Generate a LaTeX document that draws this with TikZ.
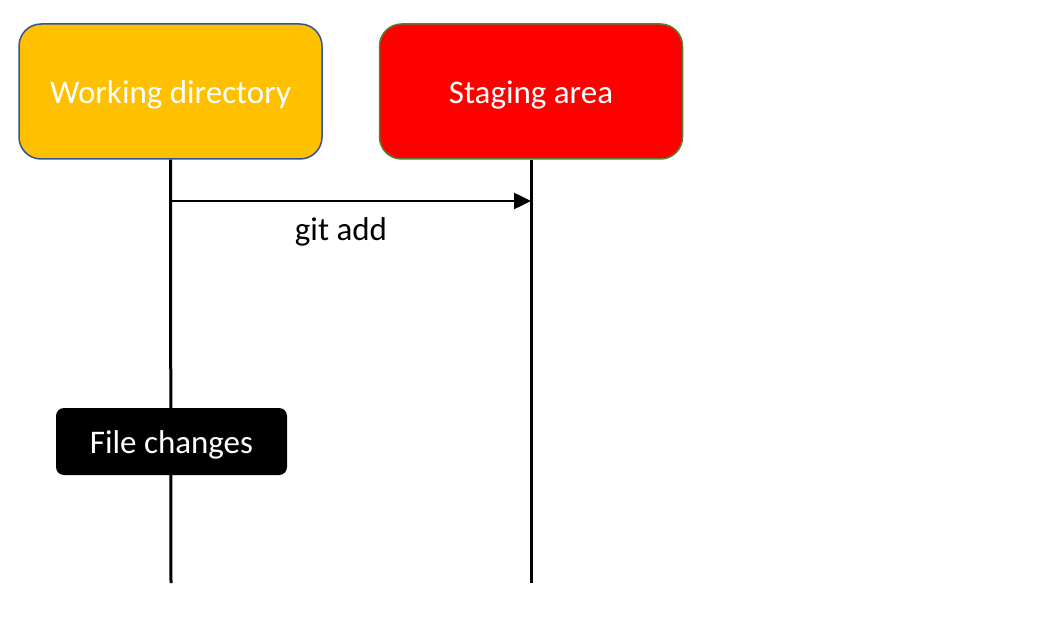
\documentclass[tikz,border=0pt]{standalone}
\usepackage{fontspec}
\setmainfont{Carlito}
\usetikzlibrary{arrows.meta}
\definecolor{wdfill}{HTML}{FFC000}
\definecolor{wdline}{HTML}{2F5597}
\definecolor{safill}{HTML}{FF0000}
\definecolor{saline}{HTML}{548235}
\newcommand{\lowtext}[1]{\raisebox{0pt}[\dimexpr\height+6pt\relax][\depth]{#1}}
\tikzset{
  x=1pt, y=-1pt,
  head/.style={rounded corners=22pt, line width=1.5pt, minimum width=303pt, minimum height=135pt, inner sep=0pt, text=white, font=\fontsize{33}{38}\selectfont},
  life/.style={line width=3pt, black},
  msg/.style={line width=2.5pt, -{Triangle[length=17pt, width=16pt]}},
  note/.style={rounded corners=8pt, fill=black, text=white, minimum width=231pt, minimum height=67pt, inner sep=0pt, font=\fontsize{33}{38}\selectfont}
}
\begin{document}
\begin{tikzpicture}
\useasboundingbox (0,0) rectangle (1048,628);
\node[head, draw=wdline, fill=wdfill] (wd) at (170.5,91.5) {\lowtext{Working directory}};
\node[head, draw=saline, fill=safill] (sa) at (531,91.5) {\lowtext{Staging area}};
\coordinate (wdend) at (171,583);
\coordinate (saend) at (531,583);
\draw[life] (wd.south) -- (wdend);
\draw[life] (sa.south) -- (saend);
\coordinate (a1) at (171,201);
\coordinate (a2) at (531,201);
\draw[msg] (a1) -- (a2);
\node[font=\fontsize{33}{38}\selectfont] (lbl) at (341,232) {git add};
\node[note] (fc) at (171.5,441.5) {\lowtext{File changes}};
\end{tikzpicture}
\end{document}
